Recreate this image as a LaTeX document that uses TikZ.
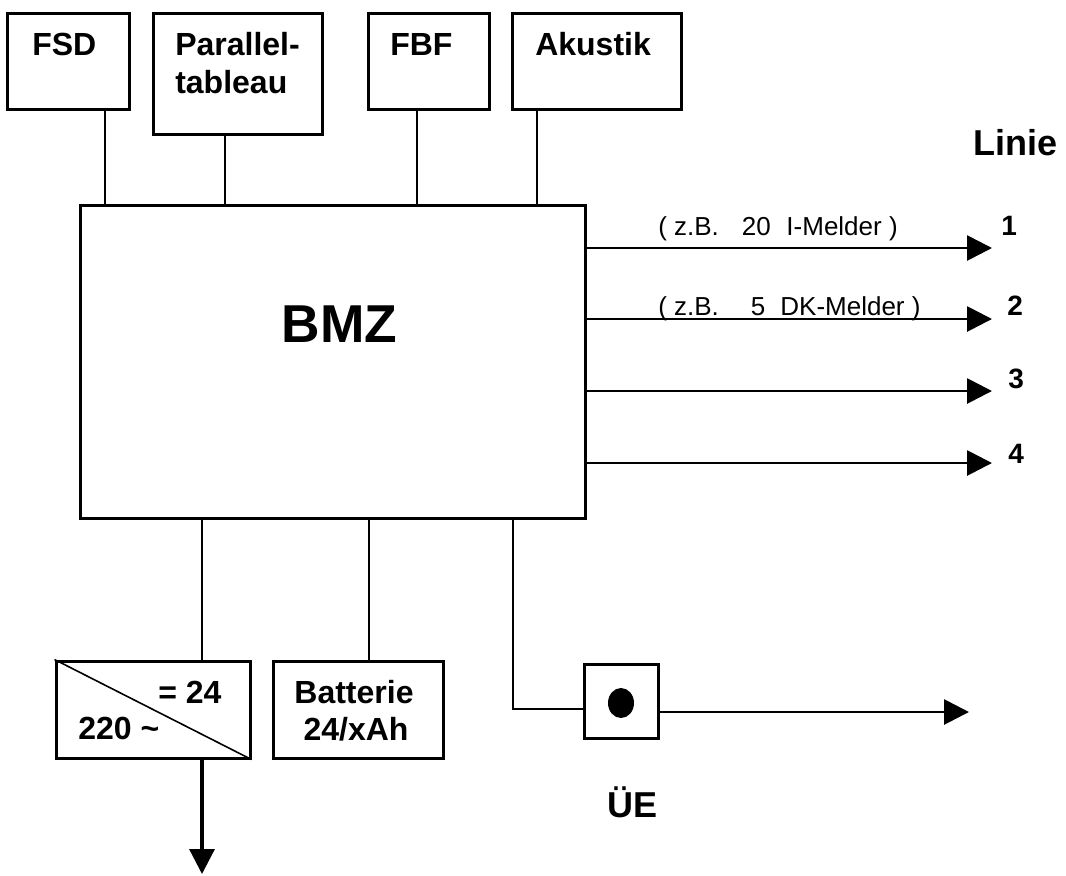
\documentclass[tikz,border=0pt]{standalone}
\usepackage{fontspec}
\setmainfont{Liberation Sans}
\usetikzlibrary{arrows.meta,shapes.geometric}
\tikzset{
  box/.style={draw, line width=2.25pt, rectangle, inner sep=0pt},
  wire/.style={line width=1.2pt},
  sig/.style={line width=2.1pt, -{Triangle[length=18.75pt,width=18.75pt]}},
  lbl/.style={inner sep=0pt, font=\bfseries\fontsize{24pt}{28pt}\selectfont},
  small/.style={inner sep=0pt, font=\fontsize{19.5pt}{22pt}\selectfont},
  num/.style={inner sep=0pt, font=\bfseries\fontsize{21pt}{24pt}\selectfont},
}
\begin{document}
\begin{tikzpicture}[x=0.75pt,y=-0.75pt]
\useasboundingbox[fill=white] (0,0) rectangle (1066,875);
% boxes
\node[box, minimum width=91.5pt, minimum height=72pt] (fsd) at (68,61) {};
\node[box, minimum width=126.75pt, minimum height=90.75pt] (par) at (237.5,73.5) {};
\node[box, minimum width=90.75pt, minimum height=72pt] (fbf) at (428.5,61) {};
\node[box, minimum width=126.75pt, minimum height=72pt] (aku) at (596.5,61) {};
\node[box, minimum width=378.75pt, minimum height=234.75pt] (bmz) at (332.5,361.5) {};
\node[box, minimum width=145.5pt, minimum height=72.75pt] (conv) at (153,709.5) {};
\node[box, minimum width=127.5pt, minimum height=72.75pt] (bat) at (358,709.5) {};
\node[box, minimum width=55.5pt, minimum height=55.5pt] (ue) at (621,701) {};
\node[ellipse, fill=black, inner sep=0pt, minimum width=19.5pt, minimum height=22.5pt] (dot) at (621,703) {};
% texts
\node[lbl, anchor=base west] (tfsd) at (32,55) {FSD};
\node[lbl, anchor=base west] (tpar1) at (175,55) {Parallel-};
\node[lbl, anchor=base west] (tpar2) at (175,93) {tableau};
\node[lbl, anchor=base west] (tfbf) at (390,55) {FBF};
\node[lbl, anchor=base west] (taku) at (535,55) {Akustik};
\node[inner sep=0pt, font=\bfseries\fontsize{40pt}{44pt}\selectfont, anchor=base] (tbmz) at (339.5,342) {BMZ};
\node[inner sep=0pt, font=\bfseries\fontsize{27pt}{30pt}\selectfont, anchor=base west] (tlinie) at (973,155) {Linie};
\node[num, anchor=base west] (n1) at (1001,235) {1};
\node[num, anchor=base west] (n2) at (1007,315) {2};
\node[num, anchor=base west] (n3) at (1008,388) {3};
\node[num, anchor=base west] (n4) at (1008,463) {4};
\node[small, anchor=base west] (a1) at (658,235) {( z.B.\hspace{17.25pt}20\hspace{11.7pt}I-Melder )};
\node[small, anchor=base west] (a2) at (658,315) {( z.B.\hspace{24pt}5\hspace{11.25pt}DK-Melder )};
\node[lbl, anchor=base west] (t24) at (158,703) {= 24};
\node[lbl, anchor=base west] (t220) at (78,739) {220 \char"007E};
\node[lbl, anchor=base] (tbat1) at (354,703) {Batterie};
\node[lbl, anchor=base] (tbat2) at (356,740) {24/xAh};
\node[inner sep=0pt, font=\bfseries\fontsize{27pt}{30pt}\selectfont, anchor=base west] (tue) at (607,817) {ÜE};
% top connectors
\draw[wire] ([xshift=27.75pt]fsd.south) -- ([xshift=27.75pt]fsd.south |- bmz.north);
\draw[wire] ([xshift=-9.375pt]par.south) -- ([xshift=-9.375pt]par.south |- bmz.north);
\draw[wire] ([xshift=-8.625pt]fbf.south) -- ([xshift=-8.625pt]fbf.south |- bmz.north);
\draw[wire] ([xshift=-44.625pt]aku.south) -- ([xshift=-44.625pt]aku.south |- bmz.north);
% lines out
\coordinate (l1) at (992,248);
\coordinate (l2) at (992,319);
\coordinate (l3) at (992,391);
\coordinate (l4) at (992,463);
\draw[sig] (bmz.east |- l1) -- (l1);
\draw[sig] (bmz.east |- l2) -- (l2);
\draw[sig] (bmz.east |- l3) -- (l3);
\draw[sig] (bmz.east |- l4) -- (l4);
% bottom connectors
\draw[wire] ([xshift=36.75pt]conv.north) -- ([xshift=36.75pt]conv.north |- bmz.south);
\draw[wire] ([xshift=8.25pt]bat.north) -- ([xshift=8.25pt]bat.north |- bmz.south);
\draw[wire] (conv.north west) -- (conv.south east);
\coordinate (uc) at (513,709);
\draw[wire] (uc |- bmz.south) -- (uc) -- (uc -| ue.west);
\coordinate (ueout) at (969,712);
\draw[sig] (ue.east |- ueout) -- (ueout);
\coordinate (down) at (202,874);
\draw[sig, line width=2.4pt] ([xshift=36.75pt]conv.south) -- (down);
\end{tikzpicture}
\end{document}
